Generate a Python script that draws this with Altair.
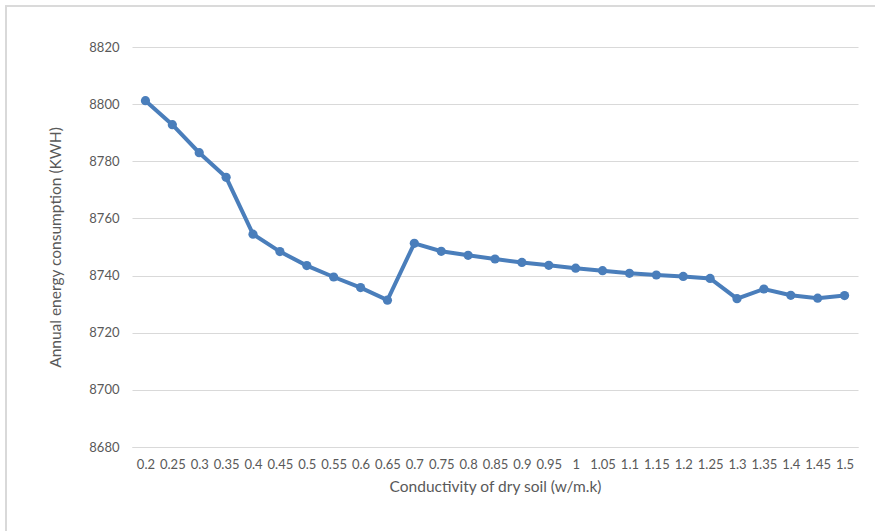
import altair as alt
import pandas as pd

# Conductivity of dry soil (w/m.k) and the resulting annual energy use (kWh)
conductivity = ["0.2", "0.25", "0.3", "0.35", "0.4", "0.45", "0.5", "0.55", "0.6",
                "0.65", "0.7", "0.75", "0.8", "0.85", "0.9", "0.95", "1", "1.05",
                "1.1", "1.15", "1.2", "1.25", "1.3", "1.35", "1.4", "1.45", "1.5"]
energy = [8801.2, 8792.8, 8783.0, 8774.4, 8754.5, 8748.4, 8743.5, 8739.5, 8735.8,
          8731.4, 8751.3, 8748.5, 8747.1, 8745.8, 8744.6, 8743.6, 8742.6, 8741.7,
          8740.8, 8740.2, 8739.7, 8739.0, 8731.9, 8735.3, 8733.1, 8732.1, 8733.0]
y_ticks = [8680, 8700, 8720, 8740, 8760, 8780, 8800, 8820]

df = pd.DataFrame({"k": conductivity, "kwh": energy})

FONT = "Lato"
GREY = "#595959"
BLUE = "#4a7ebb"

x_enc = alt.X(
    "k:N", sort=conductivity, title="Conductivity of dry soil (w/m.k)",
    scale=alt.Scale(type="point", padding=0.5),
    axis=alt.Axis(labelAngle=0, labelOverlap=False, ticks=False, grid=False,
                  domainColor="#d9d9d9", labelPadding=11, titlePadding=8,
                  labelFontSize=13, titleFontSize=15.5),
)
y_enc = alt.Y(
    "kwh:Q", title="Annual energy consumption (KWH)",
    scale=alt.Scale(domain=[8680, 8820], nice=False, zero=False),
    axis=alt.Axis(values=y_ticks, format="d", ticks=False, domain=False,
                  gridColor="#d9d9d9", labelPadding=13, labelFontSize=13,
                  titleFontSize=15.5, titleAngle=270, titleX=-77, titleY=200,
                  titleAlign="center", titleBaseline="middle"),
)

line = alt.Chart(df).mark_line(
    color=BLUE, strokeWidth=4,
    point=alt.OverlayMarkDef(filled=True, color=BLUE, size=85, opacity=1),
).encode(x=x_enc, y=y_enc)

# Outer frame of the chart
frame = alt.Chart(df).mark_rect(
    fill=None, stroke="#d9d9d9", strokeWidth=1.2
).encode(
    x=alt.value(-126), x2=alt.value(900),
    y=alt.value(-41), y2=alt.value(600),
)

chart = alt.layer(frame, line).properties(
    width=726, height=400,
    padding={"left": 132, "top": 47, "right": 17, "bottom": 84},
    autosize=alt.AutoSizeParams(type="none"),
    background="white",
).configure_view(stroke=None).configure_axis(
    labelFont=FONT, titleFont=FONT, labelColor=GREY, titleColor=GREY,
    titleFontWeight="normal",
)

chart.save("out.html", embed_options={"renderer": "svg", "actions": False})
